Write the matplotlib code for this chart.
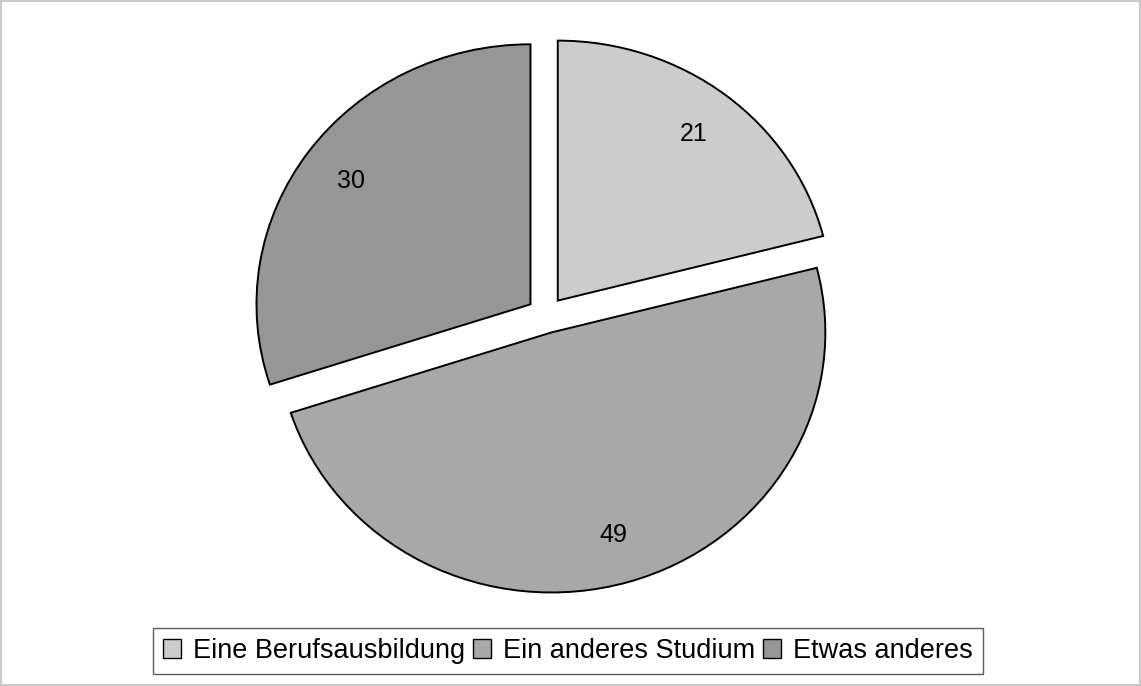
import matplotlib.pyplot as plt
from matplotlib.patches import Rectangle

categories = ["Eine Berufsausbildung", "Ein anderes Studium", "Etwas anderes"]
values = [21, 49, 30]
colors = ["#cccccc", "#a8a8a8", "#969696"]

plt.rcParams["font.family"] = ["Liberation Sans", "DejaVu Sans"]

W, H = 1141, 686
cx, cy = 546, 371      # pie centre in pixels (from bottom left)
rx, ry = 274, 260      # the pie is slightly wider than tall

fig = plt.figure(figsize=(W / 100, H / 100), dpi=100)
ax = fig.add_axes([0, 0, 1, 1])

total = sum(values)
wedges, texts, autotexts = ax.pie(
    values,
    colors=colors,
    startangle=90,
    counterclock=False,
    explode=[0.07, 0.07, 0.07],
    autopct=lambda p: f"{p * total / 100:.0f}",
    pctdistance=0.81,
    wedgeprops={"edgecolor": "black", "linewidth": 1.4},
    textprops={"fontsize": 18, "color": "black"},
    frame=True,
)
ax.set_aspect("auto")
ax.set_xlim(-cx / rx, (W - cx) / rx)
ax.set_ylim(-cy / ry, (H - cy) / ry)
ax.axis("off")

leg = ax.legend(
    wedges, categories,
    loc="center right", bbox_to_anchor=(983 / W, 1 - 651 / H),
    ncol=3, fontsize=19.5, frameon=True, fancybox=False,
    handlelength=0.65, handleheight=0.65, handletextpad=0.45,
    columnspacing=0.3, borderpad=0.38, borderaxespad=0,
)
leg.get_frame().set_edgecolor("#333333")
leg.get_frame().set_linewidth(1.0)
for h in leg.legend_handles:
    h.set_linewidth(1.0)

fig.patches.append(Rectangle((0.001, 0.001), 0.998, 0.997, transform=fig.transFigure,
                             fill=False, edgecolor="#c8c8c8", linewidth=1.5))

fig.savefig("out.png", dpi=100)
